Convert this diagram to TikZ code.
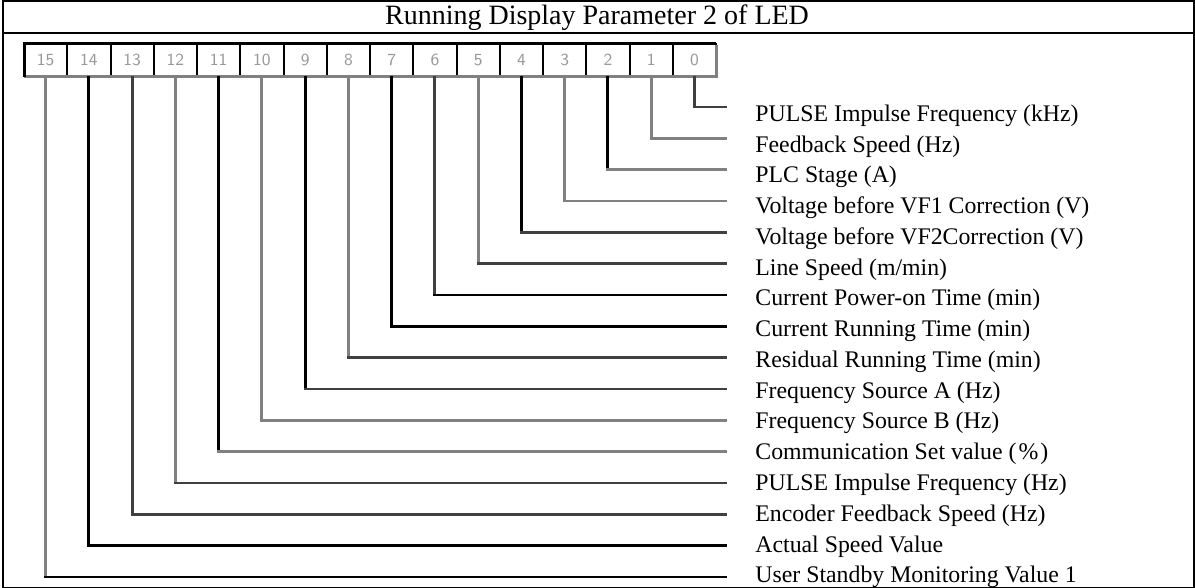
\documentclass[tikz,border=0pt]{standalone}
\usepackage{fontspec}
\setmainfont{Liberation Serif}
\usepackage{tikz}
\usetikzlibrary{calc}

\definecolor{bk}{gray}{0}
\definecolor{dk}{gray}{0.25}
\definecolor{md}{gray}{0.5}

\tikzset{
  bitbox/.style={draw=black, line width=1pt, fill=white, inner sep=0pt, outer sep=0pt,
    minimum width=21.625pt, minimum height=16pt,
    font=\sffamily\fontsize{8.5}{9}\selectfont, text=black!40},
  wire/.style={line width=1.4pt},
  lbl/.style={anchor=base west, inner sep=0pt, font=\fontsize{11.9}{13}\selectfont},
}

\begin{document}
\begin{tikzpicture}[x=0.5pt, y=-0.5pt]
      \useasboundingbox (0,0) rectangle (1195,588);

      % 1. frame and title
      \draw[line width=1pt] (3,1) rectangle (1194,588);
      \draw[line width=1.2pt] (3,33) -- (1194,33);
      \node[anchor=base, inner sep=0pt, font=\fontsize{14}{16}\selectfont] (title) at (597,25) {Running Display Parameter 2 of LED};

      % 2. the 16 bit boxes, bit 15 on the left
      \foreach \i in {0,...,15} {
        \node[bitbox] (b\i) at ({24+43.25*(15-\i+0.5)},60) {\i};
      }
      \draw[md, line width=1.5pt] (716,45) -- (716,77) -- (24,77);
      \draw[black, line width=1.5pt] (24,77) -- (24,44) -- (716,44);

      % 3. connectors and labels
      \foreach \i/\vc/\hc/\txt in {
          0/dk/dk/{PULSE Impulse Frequency (kHz)},
          1/md/md/{Feedback Speed (Hz)},
          2/bk/md/{PLC Stage (A)},
          3/md/md/{Voltage before VF1 Correction (V)},
          4/bk/dk/{Voltage before VF2Correction (V)},
          5/md/dk/{Line Speed (m/min)},
          6/dk/bk/{Current Power-on Time (min)},
          7/bk/bk/{Current Running Time (min)},
          8/md/dk/{Residual Running Time (min)},
          9/bk/dk/{Frequency Source A (Hz)},
          10/md/md/{Frequency Source B (Hz)},
          11/bk/md/{Communication Set value (\kern1pt\%\kern1pt)},
          12/md/dk/{PULSE Impulse Frequency (Hz)},
          13/dk/dk/{Encoder Feedback Speed (Hz)},
          14/bk/bk/{Actual Speed Value},
          15/md/bk/{User Standby Monitoring Value 1}} {
        \coordinate (e\i) at (727,{107+31.33*\i});
        \node[lbl] (l\i) at (755,{121.5+30.75*\i}) {\txt};
        \draw[wire, \vc] (b\i.south) -- (b\i.south |- e\i);
        \draw[wire, \hc] ($(b\i.south |- e\i)+(-1.4,0)$) -- (e\i);
      }
    \end{tikzpicture}
\end{document}
